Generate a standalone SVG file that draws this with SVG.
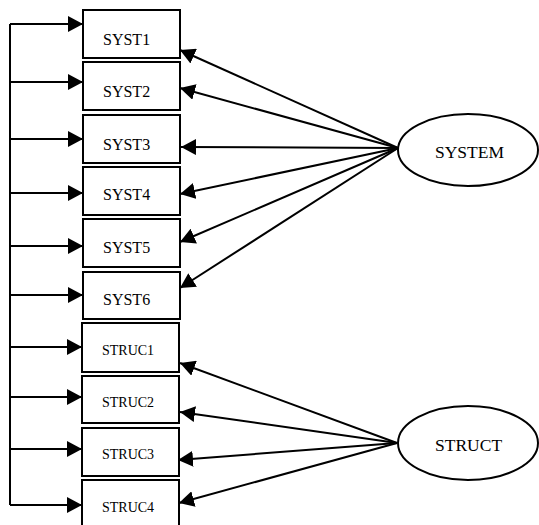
<svg xmlns="http://www.w3.org/2000/svg" width="539" height="525" viewBox="0 0 539 525">
<style>
.box{fill:#fff;stroke:#000;stroke-width:2}
.ell{fill:#fff;stroke:#000;stroke-width:2}
.lbl{font-family:"Liberation Serif","Times New Roman",serif;font-size:16px;fill:#000}
.slbl{font-family:"Liberation Serif","Times New Roman",serif;font-size:14px;fill:#000}
.big{font-family:"Liberation Serif","Times New Roman",serif;font-size:17.5px;fill:#000}
.c{fill:none;stroke:#000;stroke-width:2}
.ca{fill:none;stroke:#000;stroke-width:2;marker-end:url(#ah)}
</style>
<defs>
<marker id="ah" markerUnits="userSpaceOnUse" markerWidth="15" markerHeight="16" refX="15" refY="8" orient="auto">
<path d="M0,0 L15,8 L0,16 z" fill="#000"/>
</marker>
</defs>
<rect width="539" height="525" fill="#fff"/>
<g id="connectors">
<path class="c" d="M10,24 V505"/>
<path class="ca" d="M10,24 H83"/>
<path class="ca" d="M10,82 H83"/>
<path class="ca" d="M10,139 H83"/>
<path class="ca" d="M10,193 H83"/>
<path class="ca" d="M10,246 H83"/>
<path class="ca" d="M10,295 H83"/>
<path class="ca" d="M10,347 H82"/>
<path class="ca" d="M10,397 H82"/>
<path class="ca" d="M10,449 H82"/>
<path class="ca" d="M10,505 H82"/>
<path class="ca" d="M398,148 L180,50"/>
<path class="ca" d="M398,148 L180,88"/>
<path class="ca" d="M398,148 L181,147"/>
<path class="ca" d="M398,148 L180,194"/>
<path class="ca" d="M398,148 L180,242"/>
<path class="ca" d="M398,148 L180,288"/>
<path class="ca" d="M397,443 L180,363"/>
<path class="ca" d="M397,443 L180,412"/>
<path class="ca" d="M397,443 L178,460"/>
<path class="ca" d="M397,443 L179,503"/>
</g>
<g id="SYST1"><rect class="box" x="83" y="10" width="97" height="48"/><text class="lbl" x="103" y="45">SYST1</text></g>
<g id="SYST2"><rect class="box" x="83" y="62" width="97" height="48"/><text class="lbl" x="103" y="97">SYST2</text></g>
<g id="SYST3"><rect class="box" x="83" y="115" width="97" height="48"/><text class="lbl" x="103" y="150">SYST3</text></g>
<g id="SYST4"><rect class="box" x="83" y="167" width="97" height="48"/><text class="lbl" x="103" y="200">SYST4</text></g>
<g id="SYST5"><rect class="box" x="83" y="219" width="97" height="48"/><text class="lbl" x="103" y="253">SYST5</text></g>
<g id="SYST6"><rect class="box" x="83" y="272" width="97" height="47"/><text class="lbl" x="103" y="305">SYST6</text></g>
<g id="STRUC1"><rect class="box" x="82" y="323" width="97" height="49"/><text class="slbl" x="102" y="355">STRUC1</text></g>
<g id="STRUC2"><rect class="box" x="82" y="376" width="97" height="47"/><text class="slbl" x="102" y="407">STRUC2</text></g>
<g id="STRUC3"><rect class="box" x="82" y="428" width="97" height="48"/><text class="slbl" x="102" y="459">STRUC3</text></g>
<g id="STRUC4"><rect class="box" x="82" y="480" width="97" height="52"/><text class="slbl" x="102" y="512">STRUC4</text></g>
<g id="SYSTEM"><ellipse class="ell" cx="468" cy="150" rx="70" ry="36"/><text class="big" x="435" y="158">SYSTEM</text></g>
<g id="STRUCT"><ellipse class="ell" cx="468" cy="443" rx="70" ry="37"/><text class="big" x="435" y="451">STRUCT</text></g>
</svg>
